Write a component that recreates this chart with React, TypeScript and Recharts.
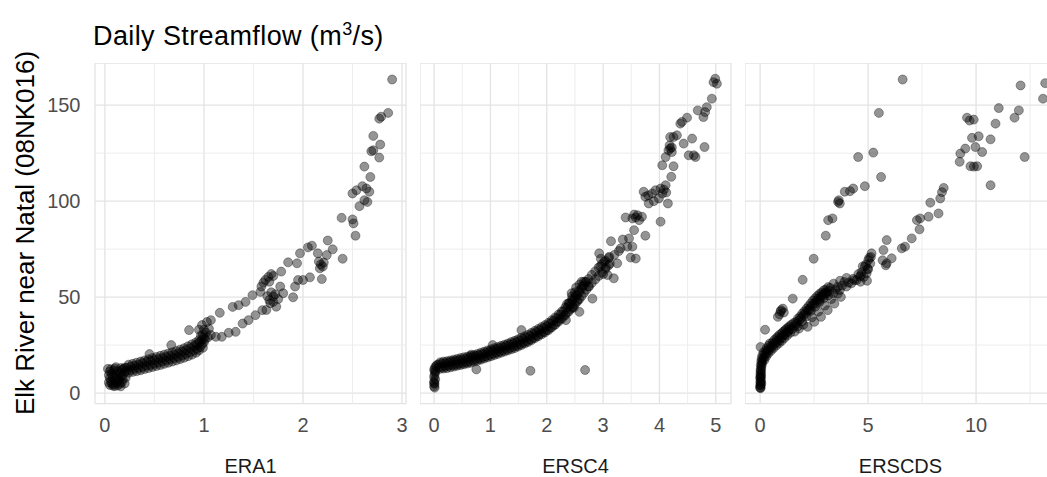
import { CartesianGrid, ReferenceLine, Scatter, ScatterChart, XAxis, YAxis } from "recharts";

const era1Points: [number, number][] = [
  [0.05, 4.2], [0.07, 5.0], [0.09, 4.6], [0.12, 5.3], [0.15, 4.8], [0.17, 5.6], [0.06, 6.2], [0.10, 6.8],
  [0.14, 6.5], [0.18, 7.0], [0.05, 7.8], [0.08, 8.2], [0.12, 8.0], [0.16, 8.6], [0.04, 9.4], [0.07, 10.0],
  [0.11, 9.6], [0.15, 10.2], [0.18, 9.2], [0.05, 11.2], [0.09, 11.8], [0.13, 11.4], [0.17, 12.0], [0.06, 12.4],
  [0.10, 12.8], [0.20, 11.0], [0.14, 7.4], [0.08, 3.8], [0.13, 4.0], [0.19, 12.6],
  [0.04, 5.5], [0.10, 3.6], [0.16, 3.5], [0.20, 5.0], [0.21, 8.0], [0.20, 13.2], [0.03, 12.6], [0.11, 13.5], [0.16, 13.0],
  [0.22, 11.5], [0.22, 13.2], [0.26, 12.0], [0.26, 13.8], [0.30, 12.6], [0.30, 14.2], [0.34, 13.0], [0.34, 14.8],
  [0.38, 13.6], [0.38, 15.6], [0.42, 14.2], [0.42, 16.2], [0.46, 14.6], [0.46, 16.8], [0.50, 15.2], [0.50, 17.2],
  [0.54, 15.8], [0.54, 17.8], [0.58, 16.4], [0.58, 18.2], [0.62, 17.0], [0.62, 18.8], [0.66, 17.6], [0.66, 19.4],
  [0.70, 18.2], [0.70, 20.0], [0.74, 18.8], [0.74, 20.8], [0.78, 19.6], [0.78, 21.6], [0.82, 20.4], [0.82, 22.4],
  [0.86, 21.2], [0.86, 23.4], [0.90, 22.2], [0.90, 24.4], [0.93, 23.0], [0.93, 25.4], [0.96, 24.0], [0.96, 26.6],
  [0.98, 25.2], [0.98, 27.8], [1.00, 26.4], [1.00, 29.0], [1.01, 28.0],
  [0.24, 10.6], [0.28, 11.0], [0.32, 11.4], [0.36, 11.9], [0.40, 12.5], [0.44, 13.0], [0.48, 13.6], [0.52, 14.1],
  [0.56, 14.6], [0.60, 15.2], [0.64, 15.8], [0.68, 16.4], [0.72, 17.0], [0.76, 17.7], [0.80, 18.4], [0.84, 19.2],
  [0.88, 20.0], [0.92, 21.0], [0.95, 22.2], [0.99, 23.6],
  [0.24, 14.8], [0.28, 15.2], [0.32, 15.8], [0.36, 16.4], [0.40, 17.0], [0.44, 17.6], [0.48, 18.2], [0.52, 18.8],
  [0.56, 19.4], [0.60, 20.0], [0.64, 20.6], [0.68, 21.2], [0.72, 21.9], [0.76, 22.6], [0.80, 23.4], [0.84, 24.4],
  [0.88, 25.4], [0.92, 26.4], [0.95, 27.6], [0.99, 30.5], [1.02, 31.5], [1.00, 33.0], [0.97, 30.0], [1.04, 29.0],
  [1.05, 33.5],
  [0.45, 20.3], [0.67, 25.0], [0.85, 32.8], [0.98, 35.4], [0.95, 33.0], [1.03, 37.0], [1.07, 38.0], [1.16, 41.8],
  [1.29, 44.9], [1.35, 45.8], [1.42, 47.5], [1.49, 51.0], [1.57, 52.7],
  [1.58, 55.5], [1.62, 58.9], [1.60, 57.5], [1.65, 60.5], [1.70, 61.0], [1.66, 58.0], [1.68, 62.0], [1.78, 63.3],
  [1.85, 68.1], [1.94, 67.6], [2.05, 75.9], [2.09, 76.8], [1.97, 72.8], [2.15, 72.8], [2.24, 71.9], [2.25, 79.5],
  [2.30, 74.9], [2.40, 70.0],
  [1.07, 30.2], [1.12, 29.3], [1.18, 29.3], [1.25, 31.4], [1.32, 31.9], [1.39, 36.2], [1.45, 38.0], [1.52, 40.6],
  [1.59, 43.2], [1.63, 43.3], [1.67, 46.8], [1.70, 50.3], [1.73, 45.0], [1.66, 48.5], [1.70, 47.5], [1.72, 51.5],
  [1.68, 52.5], [1.75, 49.0], [1.64, 50.5], [1.77, 55.5], [1.80, 52.0], [1.90, 49.9], [1.92, 55.5], [1.95, 58.9],
  [2.00, 58.9], [2.07, 60.3], [2.17, 65.0], [2.20, 65.9], [2.19, 59.4], [2.18, 67.0], [2.21, 68.0], [2.16, 68.5],
  [2.39, 91.3], [2.50, 90.5], [2.51, 88.4], [2.53, 82.0], [2.62, 118.0], [2.68, 112.6], [2.60, 107.8], [2.54, 105.7],
  [2.50, 104.0], [2.64, 106.6], [2.67, 104.9], [2.62, 100.5], [2.65, 99.6], [2.57, 97.4], [2.71, 134.0], [2.78, 129.5],
  [2.69, 126.0], [2.71, 126.5], [2.77, 122.7], [2.77, 143.0], [2.79, 144.0], [2.86, 146.0], [2.90, 163.4],
];

const ersc4Points: [number, number][] = [
  [0.00, 3.5], [0.01, 4.8], [0.00, 6.0], [0.02, 7.2], [0.00, 8.4], [0.01, 9.6], [0.02, 10.8], [0.00, 12.0],
  [0.01, 13.0], [0.03, 14.0], [0.05, 14.6], [0.00, 5.2], [0.02, 11.5], [0.01, 2.8],
  [0.08, 13.2], [0.08, 15.0], [0.14, 13.6], [0.14, 15.4], [0.20, 13.8], [0.20, 15.6], [0.26, 14.2], [0.26, 16.0],
  [0.32, 14.6], [0.32, 16.4], [0.38, 14.8], [0.38, 16.8], [0.44, 15.2], [0.44, 17.2], [0.50, 15.6], [0.50, 17.4],
  [0.56, 16.0], [0.56, 17.8], [0.62, 16.4], [0.62, 18.4], [0.68, 17.0], [0.68, 18.8], [0.74, 17.4], [0.74, 19.4],
  [0.80, 18.0], [0.80, 19.8], [0.86, 18.6], [0.86, 20.4], [0.92, 19.2], [0.92, 21.0], [0.98, 19.8], [0.98, 21.6],
  [1.04, 20.4], [1.04, 22.2], [1.10, 21.0], [1.10, 22.8], [1.16, 21.6], [1.16, 23.4], [1.22, 22.2], [1.22, 24.0],
  [1.28, 22.8], [1.28, 24.6], [1.34, 23.4], [1.34, 25.2], [1.40, 24.0], [1.40, 26.0], [1.46, 24.6], [1.46, 26.6],
  [1.52, 25.4], [1.52, 27.4], [1.58, 26.2], [1.58, 28.2], [1.64, 27.0], [1.64, 29.0], [1.70, 27.8], [1.70, 29.8],
  [1.76, 28.8], [1.76, 30.8], [1.82, 29.8], [1.82, 31.8], [1.88, 30.8], [1.88, 32.8], [1.94, 31.8], [1.94, 33.8],
  [2.00, 32.8], [2.00, 34.8], [2.06, 34.0], [2.06, 36.2], [2.12, 35.4], [2.12, 37.6], [2.18, 37.0], [2.18, 39.0],
  [2.24, 38.6], [2.24, 40.8], [2.30, 40.2], [2.30, 42.6], [2.36, 42.0], [2.36, 44.4], [2.42, 43.8], [2.42, 46.4],
  [2.46, 45.0], [2.46, 48.0], [2.50, 46.4], [2.50, 49.6], [2.54, 47.6], [2.54, 51.0], [2.58, 49.0], [2.58, 52.6],
  [2.62, 50.6], [2.62, 54.4], [2.66, 52.2], [2.66, 56.0], [2.70, 53.8], [2.70, 57.8], [2.74, 55.6], [2.74, 59.4],
  [2.80, 57.4], [2.80, 61.6], [2.86, 59.2], [2.86, 63.4], [2.92, 61.0], [2.92, 65.4], [2.98, 62.8], [2.98, 67.2],
  [3.04, 64.6], [3.04, 69.0], [3.10, 66.6], [3.10, 70.4],
  [0.11, 12.6], [0.17, 12.8], [0.23, 13.0], [0.29, 13.4], [0.35, 13.8], [0.41, 14.2], [0.47, 14.6], [0.53, 15.0],
  [0.59, 15.4], [0.65, 15.8], [0.71, 16.4], [0.77, 16.8], [0.83, 17.4], [0.89, 18.0], [0.95, 18.6], [1.01, 19.2],
  [1.07, 19.8], [1.13, 20.4], [1.19, 21.0], [1.25, 21.6], [1.31, 22.2], [1.37, 22.8], [1.43, 23.4], [1.49, 24.2],
  [1.55, 25.0], [1.61, 25.8], [1.67, 26.6], [1.73, 27.6], [1.79, 28.6], [1.85, 29.6], [1.91, 30.6], [1.97, 31.6],
  [2.03, 32.8], [2.09, 34.2], [2.15, 35.6], [2.21, 37.2], [2.27, 38.8], [2.33, 40.6], [2.39, 42.4], [2.45, 44.4],
  [0.11, 16.0], [0.17, 16.4], [0.23, 16.6], [0.29, 17.0], [0.35, 17.4], [0.41, 17.8], [0.47, 18.2], [0.53, 18.6],
  [0.59, 19.0], [0.65, 19.4], [0.71, 19.8], [0.77, 20.4], [0.83, 21.0], [0.89, 21.6], [0.95, 22.2], [1.01, 22.8],
  [1.07, 23.4], [1.13, 24.0], [1.19, 24.6], [1.25, 25.2], [1.31, 25.8], [1.37, 26.6], [1.43, 27.2], [1.49, 28.0],
  [1.55, 28.8], [1.61, 29.6], [1.67, 30.4], [1.73, 31.4], [1.79, 32.4], [1.85, 33.4], [1.91, 34.4], [1.97, 35.4],
  [2.03, 36.6], [2.09, 38.0], [2.15, 39.4], [2.21, 41.0], [2.27, 42.6], [2.33, 44.6], [2.39, 46.6], [2.45, 48.8],
  [2.51, 51.0], [2.57, 53.4], [2.63, 55.6], [2.69, 58.0],
  [2.40, 47.0], [2.45, 50.5], [2.50, 52.5], [2.55, 48.5], [2.48, 44.5], [2.52, 55.0], [2.58, 56.5], [2.44, 52.0],
  [2.36, 46.5], [2.62, 58.0], [2.95, 66.0], [3.00, 62.0], [3.05, 65.5], [3.08, 61.5], [3.02, 68.5], [2.96, 70.0],
  [3.12, 67.5],
  [0.75, 12.3], [1.71, 11.6], [2.68, 12.0], [1.55, 32.8], [1.04, 25.0], [0.66, 20.0], [2.81, 49.2], [2.58, 42.3],
  [2.34, 38.0], [2.66, 58.0], [2.75, 55.5],
  [2.93, 72.8], [3.11, 71.0], [3.14, 79.1], [3.19, 59.8], [3.25, 67.6], [3.31, 75.4], [3.43, 76.3], [3.40, 91.5],
  [3.46, 80.6], [3.49, 70.6], [3.52, 76.3], [3.52, 91.0], [3.55, 84.9], [3.58, 70.1], [3.61, 92.7], [3.64, 90.1],
  [3.69, 91.9], [3.75, 82.0], [3.72, 104.9], [3.75, 102.3], [3.81, 98.8], [3.87, 104.0], [3.93, 105.7], [3.99, 101.4],
  [4.02, 106.6], [4.05, 104.0], [4.11, 108.3], [4.15, 98.8], [4.02, 89.3], [4.21, 112.7], [4.05, 118.7], [4.11, 123.0],
  [4.16, 126.5], [4.19, 127.4], [4.22, 125.6], [4.25, 118.2], [4.19, 133.4], [4.25, 133.4], [4.31, 134.3], [4.37, 140.4],
  [4.40, 141.3], [4.49, 143.5], [4.43, 130.0], [4.52, 123.9], [4.58, 132.6], [4.61, 123.9], [4.64, 123.0], [4.80, 128.2],
  [4.68, 147.3], [4.78, 143.8], [4.81, 146.4], [4.84, 149.0], [4.93, 153.4], [4.96, 162.0], [4.99, 163.8], [5.02, 161.2],
  [3.20, 72.0], [3.35, 80.0], [3.28, 74.0], [3.58, 91.5], [3.55, 93.0], [3.80, 103.0], [3.90, 100.0], [4.08, 106.0],
  [4.12, 104.5], [4.18, 129.0], [4.22, 128.0],
];

const erscdsPoints: [number, number][] = [
  [0.02, 3.0], [0.03, 4.2], [0.02, 5.4], [0.04, 6.6], [0.02, 7.8], [0.03, 9.0], [0.05, 10.2], [0.03, 11.4],
  [0.05, 12.6], [0.06, 13.8], [0.08, 15.0], [0.10, 16.2], [0.12, 17.4], [0.04, 8.4], [0.02, 2.5], [0.06, 5.0],
  [0.00, 4.0], [0.01, 6.0], [0.00, 8.0], [0.01, 10.0], [0.02, 12.0], [0.03, 14.5], [0.05, 16.5], [0.00, 2.8],
  [0.07, 18.0], [0.10, 19.5],
  [0.18, 18.6], [0.22, 20.2], [0.30, 20.8], [0.35, 22.4], [0.42, 22.6], [0.48, 24.2], [0.55, 24.0], [0.62, 25.6],
  [0.70, 25.8], [0.78, 27.2], [0.85, 27.0], [0.92, 28.6], [1.00, 28.8], [1.08, 30.2], [1.15, 30.4], [1.22, 31.6],
  [1.30, 32.0], [1.38, 33.2], [0.25, 22.0], [0.40, 24.8], [0.58, 26.4], [0.75, 28.6], [0.90, 30.4], [1.05, 31.8],
  [1.20, 33.4], [1.35, 34.8], [0.15, 21.0],
  [0.20, 17.2], [0.28, 19.0], [0.38, 20.6], [0.50, 22.0], [0.62, 23.4], [0.75, 24.8], [0.88, 26.0], [1.00, 27.2],
  [1.12, 28.6], [1.25, 30.0], [1.40, 31.4], [0.30, 23.4], [0.45, 25.8], [0.65, 27.6], [0.82, 29.4], [1.00, 31.0],
  [1.15, 32.6], [1.30, 34.0], [1.45, 35.6],
  [0.02, 24.0], [0.23, 33.0], [0.82, 39.7], [0.97, 43.2], [0.90, 41.0], [1.05, 44.0], [1.10, 42.0], [0.95, 42.5],
  [1.51, 49.2], [1.97, 59.0], [2.48, 70.0], [3.04, 82.0], [3.15, 90.1], [3.35, 91.0], [3.61, 99.6], [3.69, 98.8],
  [3.64, 100.5], [3.92, 104.9], [4.16, 105.2], [4.31, 106.6], [4.85, 107.8], [4.54, 123.0], [5.24, 125.3], [5.60, 112.6],
  [5.50, 146.0], [6.60, 163.4],
  [1.50, 33.5], [1.60, 35.0], [1.70, 36.2], [1.80, 37.8], [1.90, 39.0], [2.00, 40.4], [2.10, 41.6], [2.20, 43.0],
  [2.30, 44.2], [2.40, 45.6], [2.50, 46.8], [2.60, 48.0], [2.70, 49.2], [2.80, 50.2], [2.90, 51.2], [3.00, 52.0],
  [3.10, 52.8], [3.20, 53.2], [1.65, 37.0], [1.85, 39.8], [2.05, 42.6], [2.25, 45.4], [2.45, 48.2], [2.65, 50.6],
  [2.85, 52.4], [3.05, 54.0], [3.25, 54.8], [1.75, 34.8], [1.95, 37.4], [2.15, 40.0], [2.35, 42.8], [2.55, 45.0],
  [2.75, 47.4], [2.95, 49.4], [3.15, 50.8],
  [1.55, 36.5], [1.75, 38.8], [1.95, 41.4], [2.15, 44.0], [2.35, 46.8], [2.55, 49.4], [2.75, 51.6], [2.95, 53.6],
  [3.15, 55.2], [1.60, 32.0], [1.80, 33.6], [2.00, 35.6], [2.40, 39.4], [2.70, 42.4], [3.00, 45.6], [3.30, 49.0],
  [3.60, 51.8],
  [2.20, 34.5], [2.51, 37.1], [2.82, 39.7], [3.13, 43.2], [3.44, 46.6], [3.74, 50.1], [2.29, 43.3], [2.60, 46.8],
  [2.76, 48.5], [2.91, 50.3], [3.07, 52.0], [3.38, 52.0], [3.69, 53.7], [4.00, 55.5], [4.23, 57.2], [4.47, 58.9],
  [4.62, 60.7], [4.93, 62.4], [4.85, 65.9], [5.01, 69.3], [5.16, 72.8], [5.86, 67.6], [6.09, 70.2], [5.71, 74.5],
  [5.86, 79.7], [6.56, 75.4], [6.71, 76.3], [7.02, 80.6], [7.38, 85.3], [7.26, 90.1], [7.41, 91.0], [7.80, 91.9],
  [8.26, 93.6], [7.88, 99.2], [8.34, 101.4], [8.42, 104.7], [8.50, 106.9],
  [4.70, 63.0], [4.80, 60.5], [4.90, 67.0], [5.00, 64.5], [5.05, 70.5], [4.75, 66.0], [5.10, 67.5], [4.95, 58.5],
  [4.65, 58.0], [4.55, 62.0], [3.59, 55.3], [3.90, 57.9], [4.36, 58.8], [4.67, 61.4], [4.98, 64.8], [5.13, 70.9],
  [5.67, 69.2], [5.82, 66.6], [3.50, 54.0], [3.80, 56.0], [4.10, 57.5], [4.30, 59.5], [3.40, 57.0], [3.70, 58.5],
  [4.00, 60.0],
  [9.58, 143.5], [9.89, 142.5], [9.81, 133.0], [10.12, 133.8], [10.67, 132.2], [9.97, 128.2], [10.28, 125.6], [9.27, 124.8],
  [9.50, 127.4], [9.24, 120.5], [9.74, 118.2], [10.05, 118.2], [10.67, 108.3], [9.70, 142.0], [9.90, 118.0], [12.06, 160.3],
  [13.20, 161.5], [13.10, 153.4], [11.98, 147.3], [11.78, 143.5], [11.05, 148.5], [10.90, 140.4], [12.25, 123.0],
];

const yMajor = [0, 50, 100, 150];
const yMinor = [25, 75, 125];

const era1Major = [0, 1, 2, 3];
const era1Minor = [0.5, 1.5, 2.5];
const ersc4Major = [0, 1, 2, 3, 4, 5];
const ersc4Minor = [0.5, 1.5, 2.5, 3.5, 4.5];
const erscdsMajor = [0, 5, 10];
const erscdsMinor = [2.5, 7.5, 12.5];

const FONT = '"Liberation Sans", Arial, Helvetica, sans-serif';
const PANEL_W = 311;
const PANEL_H = 340.6;
const X_AXIS_H = 72;
const Y_AXIS_W = 60;
const PAD_R = 14;

function Dot(props: any) {
  return (
    <circle
      cx={props.cx}
      cy={props.cy}
      r={4.5}
      fill="#000"
      fillOpacity={0.42}
      stroke="#000"
      strokeOpacity={0.42}
      strokeWidth={0.8}
    />
  );
}

interface PanelProps {
  name: string;
  points: [number, number][];
  domain: [number, number];
  major: number[];
  minor: number[];
  left: number;
  showY?: boolean;
}

function Panel({ name, points, domain, major, minor, left, showY }: PanelProps) {
  const data = points.map(([x, y]) => ({ x, y }));
  const yw = showY ? Y_AXIS_W : 0;
  return (
    <div style={{ position: "absolute", left: left - yw, top: 63 }}>
      <ScatterChart
        width={PANEL_W + yw + PAD_R}
        height={PANEL_H + X_AXIS_H}
        margin={{ top: 0, right: PAD_R, bottom: 0, left: 0 }}
      >
        <CartesianGrid stroke="#e3e3e3" strokeWidth={1.3} />
        {minor.map((v) => (
          <ReferenceLine key={"vx" + v} x={v} stroke="#ebebeb" strokeWidth={0.9} />
        ))}
        {yMinor.map((v) => (
          <ReferenceLine key={"hy" + v} y={v} stroke="#ebebeb" strokeWidth={0.9} />
        ))}
        <XAxis
          type="number"
          dataKey="x"
          domain={domain}
          ticks={major}
          interval={0}
          allowDataOverflow
          axisLine={false}
          tickLine={false}
          tickSize={6}
          tickMargin={8}
          height={X_AXIS_H}
          tick={{ fontSize: 20, fill: "#4d4d4d", fontFamily: FONT }}
          label={{
            value: name,
            position: "insideBottom",
            offset: 3,
            fill: "#1a1a1a",
            fontSize: 20,
            fontFamily: FONT,
          }}
        />
        <YAxis
          type="number"
          dataKey="y"
          domain={[-5.5, 172]}
          ticks={yMajor}
          interval={0}
          allowDataOverflow
          hide={!showY}
          width={yw}
          axisLine={false}
          tickLine={false}
          tickSize={6}
          tickMargin={8.5}
          tick={{ fontSize: 20, fill: "#4d4d4d", fontFamily: FONT }}
        />
        <Scatter data={data} shape={Dot} isAnimationActive={false} />
      </ScatterChart>
    </div>
  );
}

export default function App() {
  return (
    <div
      style={{
        position: "fixed",
        left: 0,
        top: 0,
        width: 1047,
        height: 477,
        overflow: "hidden",
        background: "#fff",
        fontFamily: FONT,
      }}
    >
      <div
        style={{
          position: "absolute",
          left: 93,
          top: 19,
          fontSize: 27,
          letterSpacing: 0.4,
          color: "#000",
          whiteSpace: "nowrap",
        }}
      >
        Daily Streamflow (m<sup style={{ fontSize: 18 }}>3</sup>/s)
      </div>
      <div
        style={{
          position: "absolute",
          left: 25,
          top: 233,
          transform: "translate(-50%, -50%) rotate(-90deg)",
          fontSize: 26,
          color: "#000",
          whiteSpace: "nowrap",
        }}
      >
        Elk River near Natal (08NK016)
      </div>
      <Panel name="ERA1" points={era1Points} domain={[-0.1, 3.04]} major={era1Major} minor={era1Minor} left={94.5} showY />
      <Panel name="ERSC4" points={ersc4Points} domain={[-0.25, 5.27]} major={ersc4Major} minor={ersc4Minor} left={419.7} />
      <Panel name="ERSCDS" points={erscdsPoints} domain={[-0.7, 13.7]} major={erscdsMajor} minor={erscdsMinor} left={745} />
    </div>
  );
}
